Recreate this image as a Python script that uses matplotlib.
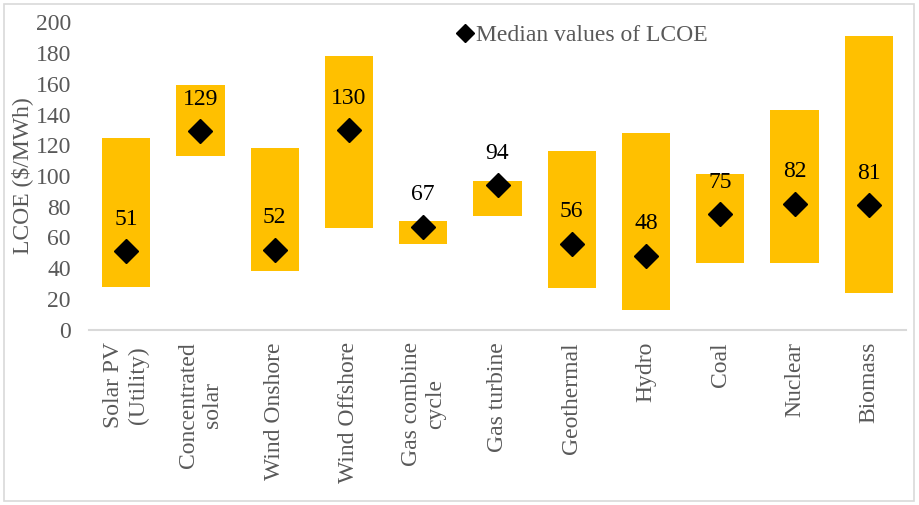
import matplotlib
matplotlib.use("Agg")
import matplotlib.pyplot as plt
from matplotlib.patches import Rectangle

categories = ["Solar PV\n(Utility)", "Concentrated\nsolar", "Wind Onshore", "Wind Offshore",
              "Gas combine\ncycle", "Gas turbine", "Geothermal", "Hydro", "Coal", "Nuclear", "Biomass"]
low_values = [28, 113, 38, 66, 56, 74, 27, 13, 43, 43, 24]
high_values = [125, 159, 118, 178, 71, 97, 116, 128, 101, 143, 191]
median_values = [51, 129, 52, 130, 67, 94, 56, 48, 75, 82, 81]
y_ticks = [0, 20, 40, 60, 80, 100, 120, 140, 160, 180, 200]

plt.rcParams['font.family'] = ['Liberation Serif', 'DejaVu Serif']
grey = '#595959'
bar_color = '#FFC000'
fs = 17

fig = plt.figure(figsize=(9.19, 5.05), dpi=100)
fig.patches.append(Rectangle((0.004, 0.008), 0.991, 0.985, transform=fig.transFigure,
                             fill=False, edgecolor='#d9d9d9', linewidth=1.2))
ax = fig.add_axes([89/919, 1-329.5/505, 817/919, 307/505])

x = list(range(len(categories)))
heights = [h - l for h, l in zip(high_values, low_values)]
ax.bar(x, heights, bottom=low_values, width=0.65, color=bar_color, zorder=2)
ax.plot(x, median_values, linestyle='none', marker='D', markersize=12.5, color='black',
        zorder=3, label='Median values of LCOE')
for xi, m in zip(x, median_values):
    ax.annotate(str(m), (xi, m), xytext=(0, 23), textcoords='offset points',
                ha='center', va='center', fontsize=fs, color='black', zorder=4)

ax.set_xlim(-0.5, len(categories) - 0.5)
ax.set_ylim(0, 200)
ax.set_yticks(y_ticks)
ax.set_yticklabels([str(t) for t in y_ticks], fontsize=fs, color=grey)
ax.set_xticks(x)
ax.set_xticklabels(categories, rotation=90, fontsize=fs, color=grey, va='top', ha='center',
                   linespacing=1.2)
ax.tick_params(axis='both', length=0)
ax.tick_params(axis='x', pad=9)
ax.tick_params(axis='y', pad=13)
for s in ['top', 'right', 'left']:
    ax.spines[s].set_visible(False)
ax.spines['bottom'].set_color('#d9d9d9')
ax.spines['bottom'].set_linewidth(1.5)
ax.set_ylabel('LCOE ($/MWh)', fontsize=fs, color=grey, labelpad=2)

leg = ax.legend(loc='upper left', bbox_to_anchor=(0.44, 1.025), frameon=False, fontsize=fs,
                handlelength=0.6, handletextpad=0.15, markerscale=0.72, borderaxespad=0)
for t in leg.get_texts():
    t.set_color(grey)

fig.savefig('out.png', dpi=100)
